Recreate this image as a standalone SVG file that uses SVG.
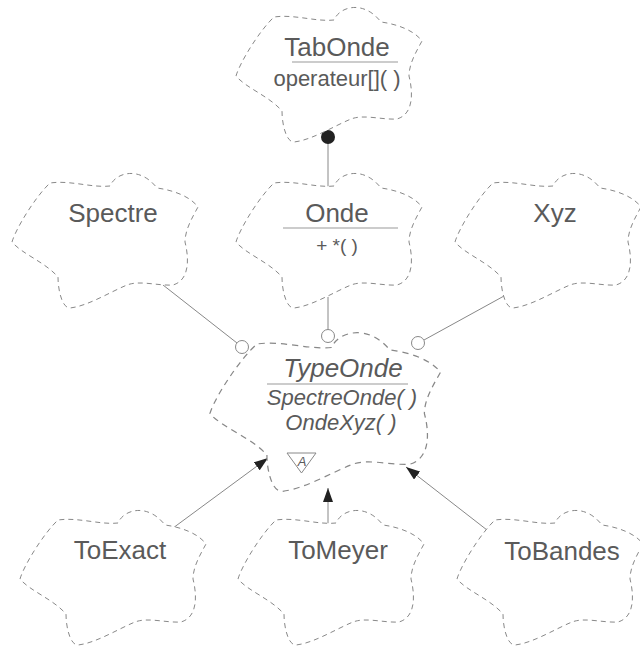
<svg xmlns="http://www.w3.org/2000/svg" xmlns:xlink="http://www.w3.org/1999/xlink" width="640" height="646" viewBox="0 0 640 646">
  <style>
    .cloud { fill: #ffffff; stroke: #888; stroke-width: 1; stroke-dasharray: 5 4; }
    .name { font-family: "Liberation Sans", Arial, sans-serif; font-size: 26px; fill: #5a5a5a; text-anchor: middle; }
    .op { font-family: "Liberation Sans", Arial, sans-serif; font-size: 22px; fill: #5a5a5a; text-anchor: middle; }
    .it { font-style: italic; }
    .sep { stroke: #999; stroke-width: 1; }
    .conn { stroke: #888; stroke-width: 1; fill: none; }
    .port { fill: #fff; stroke: #888; stroke-width: 1; }
  </style>
  <defs>
    <path id="cloud" d="M 12,242 C 16,228 36,196 50,183 C 70,180 92,188 110,186 C 116,172 140,166 157,188 C 172,190 190,196 198,207 C 192,218 185,230 185,242 C 189,258 190,280 173,285 C 158,286 140,280 127,285 C 110,292 88,306 70,308 C 62,308 58,290 58,277 C 45,262 22,254 12,242 Z"/>
    <marker id="inh" viewBox="0 0 14 10" refX="14" refY="5" markerWidth="14" markerHeight="10" markerUnits="userSpaceOnUse" orient="auto">
      <path d="M0,0 L14,5 L0,10 Z" fill="#222"/>
    </marker>
  </defs>

  <g id="connectors">
    <line class="conn" x1="328" y1="140" x2="328" y2="188"/>
    <circle cx="328" cy="137" r="7" fill="#222"/>
    <line class="conn" x1="163" y1="285" x2="237" y2="343"/>
    <line class="conn" x1="328" y1="297" x2="328" y2="330"/>
    <line class="conn" x1="504" y1="296" x2="424" y2="340"/>
    <line class="conn" x1="173" y1="528" x2="268" y2="458" marker-end="url(#inh)"/>
    <line class="conn" x1="328" y1="524" x2="328" y2="488" marker-end="url(#inh)"/>
    <line class="conn" x1="487" y1="530" x2="406" y2="467" marker-end="url(#inh)"/>
  </g>

  <g id="TabOnde">
    <use xlink:href="#cloud" href="#cloud" class="cloud" transform="translate(224,-166)"/>
    <text class="name" x="337" y="56">TabOnde</text>
    <line class="sep" x1="292" y1="62" x2="398" y2="62"/>
    <text class="op" x="337" y="86">operateur[]( )</text>
  </g>

  <g id="Spectre">
    <use xlink:href="#cloud" href="#cloud" class="cloud"/>
    <text class="name" x="113" y="222">Spectre</text>
  </g>

  <g id="Onde">
    <use xlink:href="#cloud" href="#cloud" class="cloud" transform="translate(224,0)"/>
    <text class="name" x="337" y="222">Onde</text>
    <line class="sep" x1="283" y1="228" x2="398" y2="228"/>
    <text class="op" x="337" y="252" style="font-size:19px">+ *( )</text>
  </g>

  <g id="Xyz">
    <use xlink:href="#cloud" href="#cloud" class="cloud" transform="translate(443,0)"/>
    <text class="name" x="555" y="222">Xyz</text>
  </g>

  <g id="TypeOnde">
    <use xlink:href="#cloud" href="#cloud" class="cloud" transform="translate(195,128) scale(1.24,1.18)" style="vector-effect:non-scaling-stroke"/>
    <circle class="port" cx="242" cy="347" r="6.5"/>
    <circle class="port" cx="328" cy="336" r="6.5"/>
    <circle class="port" cx="418" cy="343" r="6.5"/>
    <text class="name it" x="343" y="377">TypeOnde</text>
    <line class="sep" x1="267" y1="384" x2="408" y2="384"/>
    <text class="op it" x="342" y="405">SpectreOnde( )</text>
    <text class="op it" x="341" y="430">OndeXyz( )</text>
    <polygon points="287,453 316,453 301.5,473" fill="#fff" stroke="#888" stroke-width="1"/>
    <text x="302" y="466" style="font-family:'Liberation Sans',Arial,sans-serif;font-size:13px;font-style:italic;fill:#5a5a5a;text-anchor:middle">A</text>
  </g>

  <g id="ToExact">
    <use xlink:href="#cloud" href="#cloud" class="cloud" transform="translate(8,337)"/>
    <text class="name" x="120" y="559">ToExact</text>
  </g>

  <g id="ToMeyer">
    <use xlink:href="#cloud" href="#cloud" class="cloud" transform="translate(226,337)"/>
    <text class="name" x="338" y="559">ToMeyer</text>
  </g>

  <g id="ToBandes">
    <use xlink:href="#cloud" href="#cloud" class="cloud" transform="translate(445,337)"/>
    <text class="name" x="562" y="560">ToBandes</text>
  </g>
</svg>
